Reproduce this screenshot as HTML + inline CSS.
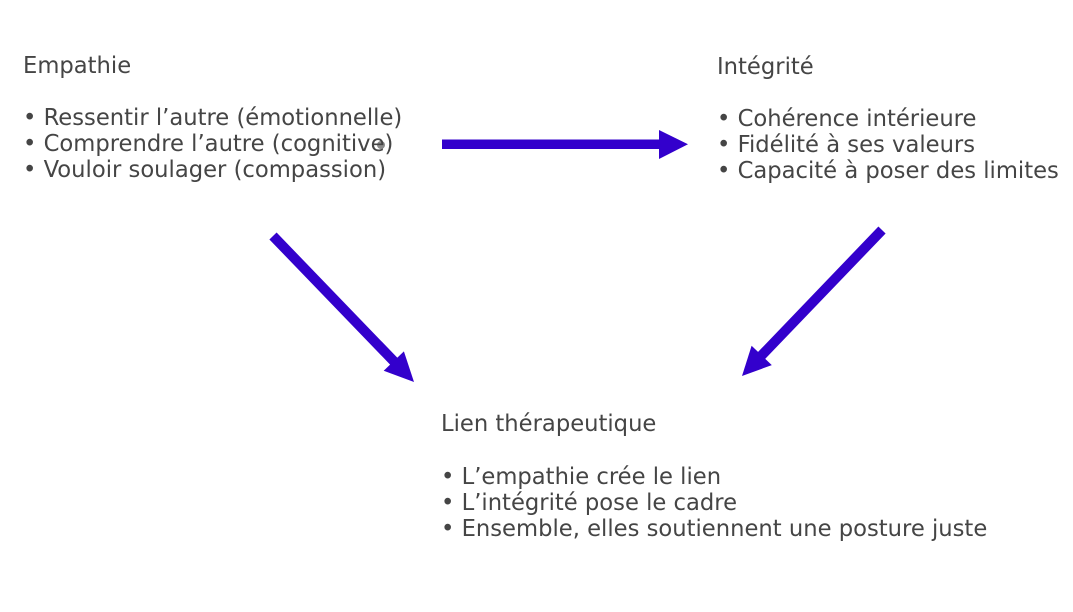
<!DOCTYPE html>
<html>
<head>
<meta charset="utf-8">
<style>
  html, body { margin:0; padding:0; background:#ffffff; }
  body { width:1073px; height:612px; position:relative; overflow:hidden; }
  .t {
    position:absolute;
    font-family:"DejaVu Sans", "Liberation Sans", sans-serif;
    font-size:22px;
    line-height:26px;
    color:#454545;
    white-space:nowrap;
    transform:scale(1.03, 1.06);
    transform-origin:0 0;
  }
  svg { position:absolute; left:0; top:0; }
</style>
</head>
<body>
<svg width="1073" height="612" viewBox="0 0 1073 612">
  <!-- horizontal arrow -->
  <rect x="442" y="139.5" width="219" height="9.5" fill="#3300cc"/>
  <polygon points="659,130 688,144.3 659,159" fill="#3300cc"/>
  <!-- left diagonal arrow -->
  <line x1="273" y1="236" x2="395" y2="362.5" stroke="#3300cc" stroke-width="10"/>
  <polygon points="414,382 403.9,351.4 383.7,370.8" fill="#3300cc"/>
  <!-- right diagonal arrow -->
  <line x1="882" y1="230" x2="760.5" y2="356.6" stroke="#3300cc" stroke-width="10"/>
  <polygon points="742,376 771.8,365.1 751.6,345.7" fill="#3300cc"/>
  <!-- small grey blob -->
  <circle cx="381" cy="145" r="4" fill="#8a8a8a"/>
</svg>

<div class="t" style="left:23px; top:53px;">Empathie</div>
<div class="t" style="left:23px; top:105px;">• Ressentir l’autre (émotionnelle)</div>
<div class="t" style="left:23px; top:131px;">• Comprendre l’autre (cognitive)</div>
<div class="t" style="left:23px; top:157px;">• Vouloir soulager (compassion)</div>

<div class="t" style="left:717px; top:54px;">Intégrité</div>
<div class="t" style="left:717px; top:106px;">• Cohérence intérieure</div>
<div class="t" style="left:717px; top:132px;">• Fidélité à ses valeurs</div>
<div class="t" style="left:717px; top:158px;">• Capacité à poser des limites</div>

<div class="t" style="left:441px; top:411px;">Lien thérapeutique</div>
<div class="t" style="left:441px; top:464px;">• L’empathie crée le lien</div>
<div class="t" style="left:441px; top:490px;">• L’intégrité pose le cadre</div>
<div class="t" style="left:441px; top:516px;">• Ensemble, elles soutiennent une posture juste</div>
</body>
</html>
